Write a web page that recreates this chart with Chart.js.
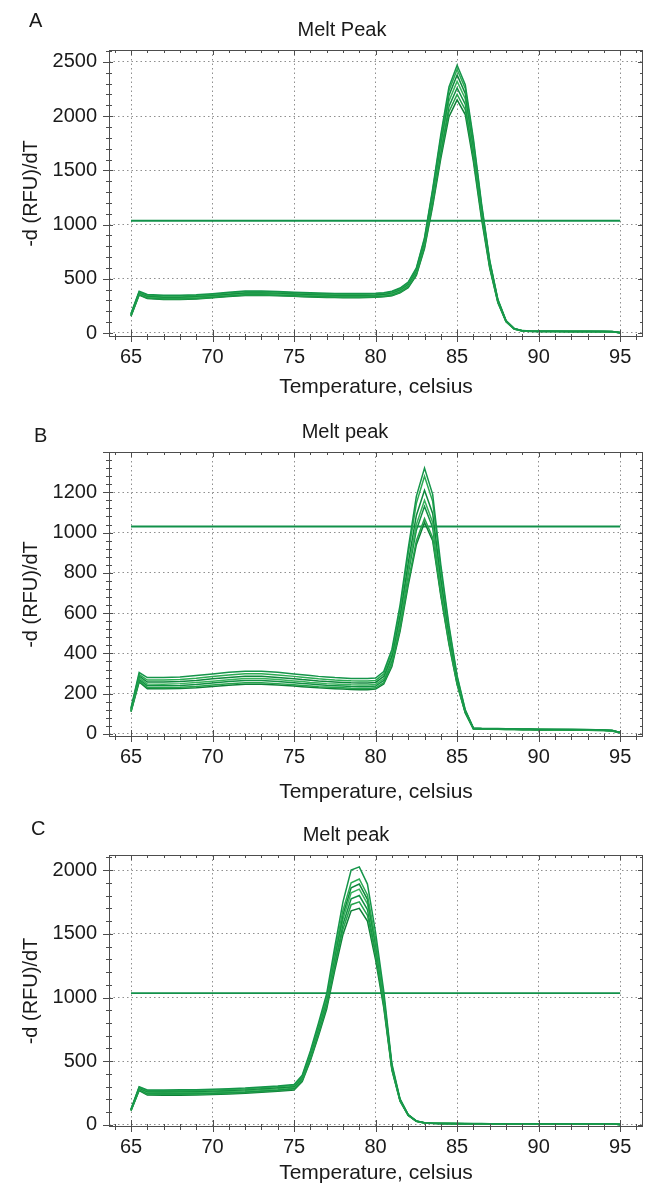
<!DOCTYPE html>
<html>
<head>
<meta charset="utf-8">
<script src="https://cdn.jsdelivr.net/npm/chart.js@4.4.1/dist/chart.umd.min.js"></script>
<style>
  body { margin: 0; background: #fff; font-family: "Liberation Sans", Arial, sans-serif; color: #1a1a1a; }
  #wrap { position: relative; width: 651px; height: 1186px; overflow: hidden; }
  canvas { position: absolute; left: 0; }
  .tag { position: absolute; font-size: 20px; }
  .ttl { position: absolute; font-size: 20px; white-space: nowrap; transform: translateX(-50%); }
</style>
</head>
<body>
<div id="wrap">
  <canvas id="chartA" width="651" height="400" style="top:0px"></canvas>
  <canvas id="chartB" width="651" height="410" style="top:400px"></canvas>
  <canvas id="chartC" width="651" height="376" style="top:810px"></canvas>
  <div class="tag" style="left:29px;top:9px">A</div>
  <div class="ttl" style="left:342px;top:18px">Melt Peak</div>
  <div class="tag" style="left:34px;top:424px">B</div>
  <div class="ttl" style="left:345px;top:420px">Melt peak</div>
  <div class="tag" style="left:31px;top:817px">C</div>
  <div class="ttl" style="left:346px;top:823px">Melt peak</div>
</div>
<script>
// temperatures (celsius), shared by all three panels
const temps = [65,65.5,66,67,68,69,70,71,72,73,74,75,75.5,76,76.5,77,77.5,78,78.5,79,79.5,80,80.5,81,81.5,82,82.5,83,83.5,84,84.5,85,85.5,86,86.5,87,87.5,88,88.5,89,89.5,90,91,92,93,94,94.5,95];
const xTicks = [65,70,75,80,85,90,95];
const thrSpan = [65, 95];

// panel A: -d(RFU)/dT per well
const a1 = [180,385,355,348,348,352,362,375,388,388,382,376,373,370,368,366,365,364,364,364,365,367,372,385,415,470,600,880,1330,1830,2270,2470,2290,1790,1190,670,310,115,42,22,18,17,16,16,16,15,14,4];
const a2 = [175,378,348,340,340,345,355,368,380,381,376,370,367,364,362,360,359,358,358,358,359,361,366,378,408,462,590,865,1310,1800,2235,2430,2255,1760,1170,660,305,113,41,21,17,16,15,15,15,14,13,4];
const a3 = [170,372,340,333,333,338,348,360,372,373,368,362,359,356,354,352,351,350,350,350,351,353,358,370,400,452,578,850,1285,1765,2190,2380,2210,1725,1150,648,300,111,40,20,16,15,15,14,14,14,13,3];
const a4 = [166,366,334,326,326,330,340,352,364,365,360,355,352,349,347,345,344,343,343,343,344,346,351,362,392,444,566,832,1255,1725,2140,2320,2160,1690,1125,635,295,109,39,20,16,15,14,14,14,13,12,3];
const a5 = [162,360,328,320,320,324,334,346,357,358,353,348,345,342,340,338,337,336,336,336,337,339,344,355,384,435,553,815,1225,1685,2090,2260,2110,1650,1100,620,290,107,38,19,15,14,14,13,13,13,12,3];
const a6 = [158,355,322,314,314,318,328,340,350,351,347,342,339,336,334,332,331,330,330,330,331,333,338,348,376,426,540,795,1195,1645,2040,2200,2060,1615,1075,607,284,105,37,19,15,14,13,13,13,12,11,3];
const a7 = [155,350,318,310,310,314,324,336,346,347,343,338,335,332,330,328,327,326,326,326,327,329,334,344,370,418,530,778,1170,1610,1995,2150,2015,1580,1050,595,278,103,36,18,14,13,13,12,12,12,11,3];
const thrA = 1035;
const yTicksA = [0,500,1000,1500,2000,2500];

// panel B
const b1 = [130,305,280,280,283,290,298,306,312,312,306,298,294,290,286,283,280,278,276,275,275,278,310,420,640,920,1180,1320,1190,840,540,290,120,30,28,27,27,26,26,25,25,24,23,23,22,20,18,8];
const b2 = [125,295,268,268,271,277,285,293,299,299,293,286,282,278,274,271,268,266,264,263,263,266,298,405,620,893,1145,1280,1155,815,525,282,117,29,27,26,26,25,25,24,24,23,22,22,21,19,17,8];
const b3 = [122,288,258,258,261,266,274,281,287,287,281,274,270,267,263,260,258,256,254,253,253,256,286,388,590,850,1085,1210,1095,775,500,270,112,28,26,25,25,24,24,23,23,22,22,21,21,19,17,7];
const b4 = [118,280,248,247,250,255,262,269,275,275,270,263,260,256,253,250,248,246,244,243,243,246,275,373,566,815,1040,1160,1050,745,482,262,110,27,26,25,25,24,24,23,23,22,21,21,20,18,16,7];
const b5 = [115,272,240,239,241,246,253,260,265,265,260,254,251,248,245,242,240,238,236,235,235,238,266,362,550,795,1012,1130,1025,728,472,257,108,26,25,24,24,23,23,22,22,21,21,20,20,18,16,7];
const b6 = [112,265,231,230,232,236,243,249,254,254,250,244,241,238,235,233,231,229,227,226,226,229,255,345,522,755,960,1070,975,695,452,248,105,25,24,23,23,22,22,21,21,21,20,20,19,17,15,6];
const b7 = [110,258,225,224,226,230,236,242,247,247,243,238,235,232,229,227,225,223,221,220,220,223,248,335,510,738,940,1050,960,685,445,245,104,25,24,23,23,22,22,21,21,20,20,19,19,17,15,6];
const thrB = 1030;
const yTicksB = [0,200,400,600,800,1000,1200];

// panel C
const c1 = [125,300,275,275,276,277,280,285,290,298,306,318,390,580,800,1030,1400,1750,2000,2025,1890,1510,1050,480,205,82,32,18,14,12,12,11,11,11,11,10,10,10,10,10,10,10,10,10,10,9,9,4];
const c2 = [122,295,268,268,269,270,273,278,283,291,299,310,380,565,780,1000,1355,1685,1900,1930,1805,1450,1010,465,200,80,31,17,14,12,11,11,11,10,10,10,10,10,10,10,10,10,10,10,9,9,9,4];
const c3 = [120,290,262,261,262,263,266,271,276,284,292,302,372,552,765,985,1330,1650,1860,1890,1770,1425,995,458,197,79,30,17,13,12,11,11,10,10,10,10,10,10,10,10,10,10,10,9,9,9,8,4];
const c4 = [118,285,255,254,254,255,258,263,268,276,284,295,364,540,750,970,1305,1615,1822,1850,1735,1400,980,452,195,78,30,16,13,12,11,11,10,10,10,10,10,10,9,9,9,9,9,9,9,9,8,3];
const c5 = [116,280,248,247,247,248,251,256,261,269,277,288,356,528,733,950,1275,1575,1775,1800,1690,1365,960,445,192,77,29,16,13,11,11,10,10,10,10,10,9,9,9,9,9,9,9,9,9,8,8,3];
const c6 = [114,275,241,240,240,241,244,249,254,262,270,281,348,515,716,930,1245,1535,1728,1750,1645,1330,940,438,190,76,29,16,13,11,11,10,10,10,10,9,9,9,9,9,9,9,9,9,8,8,8,3];
const c7 = [112,270,235,234,234,235,238,243,248,256,264,275,340,503,700,910,1215,1495,1680,1700,1600,1295,920,430,187,75,28,15,12,11,10,10,10,9,9,9,9,9,9,9,9,9,8,8,8,8,7,3];
const thrC = 1035;
const yTicksC = [0,500,1000,1500,2000];

const traceColors = ['#15954a', '#2bab52', '#0f873c', '#36b25a', '#139044', '#24a34b', '#0e7f37'];
const fontName = '"Liberation Sans", Arial, sans-serif';

// frame box + major/minor tick marks on all four sides
const frameTicks = {
  id: 'frameTicks',
  afterDraw(chart, args, opts) {
    const { ctx, chartArea: a, scales: { x, y } } = chart;
    ctx.save();
    ctx.strokeStyle = '#4d4d4d';
    ctx.lineWidth = 1;
    ctx.strokeRect(Math.round(a.left) + 0.5, Math.round(a.top) + 0.5,
      Math.round(a.right - a.left) - 1, Math.round(a.bottom - a.top) - 1);
    ctx.beginPath();
    for (let v = Math.ceil(x.min); v <= x.max; v++) {
      const px = Math.round(x.getPixelForValue(v)) + 0.5;
      const major = v % 5 === 0;
      ctx.moveTo(px, a.bottom - (major ? 7 : 3));
      ctx.lineTo(px, a.bottom + (major ? 5 : 3));
      ctx.moveTo(px, a.top);
      ctx.lineTo(px, a.top + (major ? 5 : 3));
    }
    for (let v = 0; v <= y.max; v += opts.minor) {
      const py = Math.round(y.getPixelForValue(v)) + 0.5;
      const major = v % opts.major === 0;
      ctx.moveTo(a.left - (major ? 6 : 3), py);
      ctx.lineTo(a.left + (major ? 4 : 3), py);
      ctx.moveTo(a.right, py);
      ctx.lineTo(a.right - (major ? 5 : 3), py);
    }
    ctx.stroke();
    ctx.restore();
  }
};

function buildSets(wells, thr) {
  const sets = wells.map((vals, i) => ({
    data: temps.map((t, j) => ({ x: t, y: vals[j] })),
    borderColor: traceColors[i % traceColors.length],
    borderWidth: 1.5,
    pointRadius: 0,
    tension: 0,
    fill: false
  }));
  sets.push({
    data: [{ x: thrSpan[0], y: thr }, { x: thrSpan[1], y: thr }],
    borderColor: '#12914a',
    borderWidth: 1.8,
    pointRadius: 0
  });
  return sets;
}

function makeChart(id, wells, thr, yTicks, p) {
  return new Chart(document.getElementById(id), {
    type: 'line',
    data: { datasets: buildSets(wells, thr) },
    plugins: [frameTicks],
    options: {
      responsive: false,
      animation: false,
      events: [],
      layout: { padding: { top: p.top, right: 8, bottom: p.padBottom, left: 0 } },
      plugins: {
        legend: { display: false },
        tooltip: { enabled: false },
        frameTicks: { minor: p.minor, major: p.major }
      },
      scales: {
        x: {
          type: 'linear',
          min: 63.65,
          max: 96.4,
          afterBuildTicks: s => { s.ticks = xTicks.map(v => ({ value: v })); },
          afterFit: s => { s.height = p.xHeight; },
          grid: { color: '#8f8f8f', lineWidth: 1, drawTicks: false },
          border: { display: false, dash: [1.5, 3] },
          ticks: { color: '#1a1a1a', padding: 8, font: { family: fontName, size: 20 }, callback: v => String(v) },
          title: {
            display: true,
            text: 'Temperature, celsius',
            color: '#1a1a1a',
            padding: { top: 0, bottom: 0 },
            font: { family: fontName, size: 21 }
          }
        },
        y: {
          min: p.yMin,
          max: p.yMax,
          afterBuildTicks: s => { s.ticks = yTicks.map(v => ({ value: v })); },
          afterFit: s => { s.width = 109; },
          grid: { color: '#8f8f8f', lineWidth: 1, drawTicks: false },
          border: { display: false, dash: [1.5, 3] },
          ticks: { color: '#1a1a1a', padding: 12, font: { family: fontName, size: 20 }, callback: v => String(v) },
          title: {
            display: true,
            text: '-d (RFU)/dT',
            color: '#1a1a1a',
            padding: { top: 19, bottom: 0 },
            font: { family: fontName, size: 20 }
          }
        }
      }
    }
  });
}

makeChart('chartA', [a1, a2, a3, a4, a5, a6, a7], thrA, yTicksA,
  { top: 50, padBottom: 0.4, xHeight: 62.6, yMin: -37, yMax: 2610, minor: 100, major: 500 });
makeChart('chartB', [b1, b2, b3, b4, b5, b6, b7], thrB, yTicksB,
  { top: 52, padBottom: 5.4, xHeight: 67.6, yMin: -15, yMax: 1400, minor: 40, major: 200 });
makeChart('chartC', [c1, c2, c3, c4, c5, c6, c7], thrC, yTicksC,
  { top: 45, padBottom: 0.4, xHeight: 58.6, yMin: -16, yMax: 2118, minor: 100, major: 500 });
</script>
</body>
</html>
